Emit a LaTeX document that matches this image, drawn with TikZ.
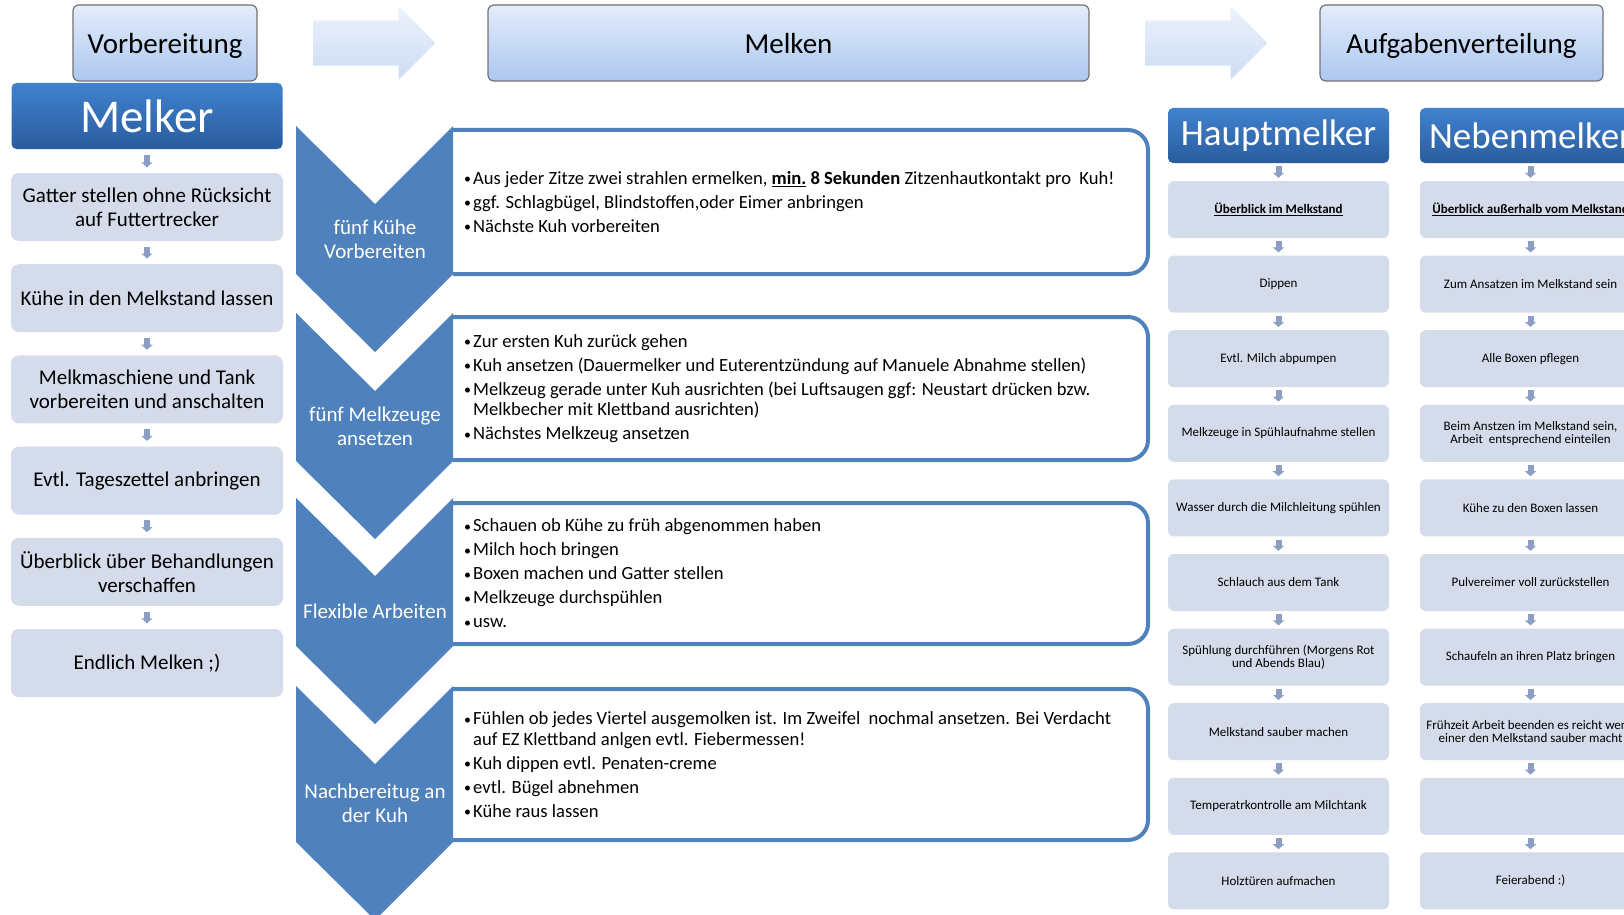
\documentclass[tikz,border=0pt]{standalone}
\usepackage{fontspec}
\setmainfont{Carlito}
\usetikzlibrary{arrows.meta,shapes.arrows}

\definecolor{chevblau}{RGB}{79,129,189}
\definecolor{kasten}{RGB}{212,219,234}
\definecolor{phaseoben}{RGB}{228,237,250}
\definecolor{phaseunten}{RGB}{172,199,240}
\definecolor{rolleoben}{RGB}{64,130,207}
\definecolor{rolleunten}{RGB}{42,92,158}
\definecolor{pfeiloben}{RGB}{236,242,252}
\definecolor{pfeilunten}{RGB}{204,220,244}
\definecolor{pfeilgrau}{RGB}{140,158,196}

\newcommand{\punkt}{\makebox[9pt][l]{\raisebox{0.5pt}{\fontsize{14}{14}\selectfont\textbullet}}}
\newcommand{\einzug}{\hspace*{9pt}}

\tikzset{
  phase/.style={draw=gray!90!black, line width=1.2pt, rounded corners=6pt,
    top color=phaseoben, bottom color=phaseunten, minimum height=76pt,
    inner sep=0pt, text depth=0pt, font=\fontsize{29}{34}\selectfont},
  rolle/.style={rounded corners=5pt, top color=rolleoben, bottom color=rolleunten,
    text=white, inner sep=0pt},
  schritt/.style={fill=kasten, rounded corners=8pt, minimum width=272pt,
    minimum height=68pt, align=center, inner sep=0pt,
    font=\fontsize{21}{24}\selectfont},
  aufgabe/.style={fill=kasten, rounded corners=6pt, minimum width=221pt,
    minimum height=57pt, align=center, inner sep=0pt,
    font=\fontsize{13}{13.5}\selectfont},
  grosspfeil/.style={single arrow, top color=pfeiloben, bottom color=pfeilunten,
    minimum height=122pt, inner xsep=0pt, inner ysep=22.5pt,
    single arrow head extend=14pt, xshift=-9.5pt},
  pfeilchen/.style={draw=pfeilgrau, line width=6pt,
    -{Triangle[width=11pt,length=5pt]}, shorten <=#1, shorten >=#1},
  pfeilchen/.default=5.5pt,
  chevron/.style={fill=chevblau},
  chevtext/.style={text=white, align=center, font=\fontsize{21}{24}\selectfont},
  infokasten/.style={draw=chevblau, line width=4pt, fill=white, rounded corners=20pt},
  punkte/.style={anchor=west, align=left, inner sep=0pt,
    font=\fontsize{18.6}{20.7}\selectfont}
}

\begin{document}
\begin{tikzpicture}[x=1pt, y=-1pt]
  \useasboundingbox (0,0) rectangle (1624,915);
  \fill[white] (0,0) rectangle (1624,915);
  \begin{scope}
  \clip (0,0) rectangle (1624,915);

  % Phasen oben
  \node[phase, minimum width=184pt] (vorb) at (165,43) {Vorbereitung};
  \node[phase, minimum width=601pt] (melken) at (788.5,43) {Melken};
  \node[phase, minimum width=283pt] (aufg) at (1461.5,43) {Aufgabenverteilung};
  \path (vorb) -- node[grosspfeil] (pfeil1) {} (melken);
  \path (melken) -- node[grosspfeil] (pfeil2) {} (aufg);

  % Melker
  \node[rolle, minimum width=271pt, minimum height=66pt,
    font=\fontsize{47}{50}\selectfont] (melker) at (147,116) {Melker};
  \node[schritt] (m1) at (147,207) {Gatter stellen ohne Rücksicht\\auf Futtertrecker};
  \node[schritt] (m2) at (147,298.2) {Kühe in den Melkstand lassen};
  \node[schritt] (m3) at (147,389.4) {Melkmaschiene und Tank\\vorbereiten und anschalten};
  \node[schritt] (m4) at (147,480.6) {Evtl. Tageszettel anbringen};
  \node[schritt] (m5) at (147,571.8) {Überblick über Behandlungen\\verschaffen};
  \node[schritt] (m6) at (147,663) {Endlich Melken ;)};

  % Melken: Kaesten
  \draw[infokasten] (453,130) -- (1148,130) -- (1148,274) -- (453,274);
  \draw[infokasten] (453,317) -- (1148,317) -- (1148,460) -- (453,460);
  \draw[infokasten] (453,503) -- (1148,503) -- (1148,644) -- (453,644);
  \draw[infokasten] (453,689) -- (1148,689) -- (1148,840) -- (453,840);

  \node[punkte] (t1) at (464,202) {%
    \punkt Aus jeder Zitze zwei strahlen ermelken, \underline{\textbf{min.}} \textbf{8 Sekunden} Zitzenhautkontakt pro\ \ Kuh!\\[3.3pt]
    \punkt ggf. Schlagbügel, Blindstoffen,oder Eimer anbringen\\[3.3pt]
    \punkt Nächste Kuh vorbereiten};
  \node[punkte] (t2) at (464,388.5) {%
    \punkt Zur ersten Kuh zurück gehen\\[3.3pt]
    \punkt Kuh ansetzen (Dauermelker und Euterentzündung auf Manuele Abnahme stellen)\\[3.3pt]
    \punkt Melkzeug gerade unter Kuh ausrichten (bei Luftsaugen ggf: Neustart drücken bzw.\\
    \einzug Melkbecher mit Klettband ausrichten)\\[3.3pt]
    \punkt Nächstes Melkzeug ansetzen};
  \node[punkte] (t3) at (464,573.5) {%
    \punkt Schauen ob Kühe zu früh abgenommen haben\\[3.3pt]
    \punkt Milch hoch bringen\\[3.3pt]
    \punkt Boxen machen und Gatter stellen\\[3.3pt]
    \punkt Melkzeuge durchspühlen\\[3.3pt]
    \punkt usw.};
  \node[punkte] (t4) at (464,764.5) {%
    \punkt Fühlen ob jedes Viertel ausgemolken ist. Im Zweifel\ \ nochmal ansetzen. Bei Verdacht\\
    \einzug auf EZ Klettband anlgen evtl. Fiebermessen!\\[3.3pt]
    \punkt Kuh dippen evtl. Penaten-creme\\[3.3pt]
    \punkt evtl. Bügel abnehmen\\[3.3pt]
    \punkt Kühe raus lassen};

  % Melken: Pfeile
  \fill[chevron] (296,126) -- (375,204) -- (453,126) -- (453,274) -- (375,352) -- (296,274) -- cycle;
  \fill[chevron] (296,313) -- (375,391) -- (453,313) -- (453,461) -- (375,539) -- (296,461) -- cycle;
  \fill[chevron] (296,498) -- (375,576) -- (453,498) -- (453,646) -- (375,724) -- (296,646) -- cycle;
  \fill[chevron] (296,686) -- (375,764) -- (453,686) -- (453,842) -- (375,920) -- (296,842) -- cycle;
  \node[chevtext] (k1) at (375,239.5) {fünf Kühe\\Vorbereiten};
  \node[chevtext] (k2) at (375,426) {fünf Melkzeuge\\ansetzen};
  \node[chevtext] (k3) at (375,611) {Flexible Arbeiten};
  \node[chevtext] (k4) at (375,803) {Nachbereitug an\\der Kuh};

  % Hauptmelker
  \node[rolle, minimum width=221pt, minimum height=55pt,
    font=\fontsize{37}{40}\selectfont] (haupt) at (1278.5,135.5) {Hauptmelker};
  \node[aufgabe] (h1) at (1278.5,209.5) {\underline{\textbf{Überblick im Melkstand}}};
  \node[aufgabe] (h2) at (1278.5,284.1) {Dippen};
  \node[aufgabe] (h3) at (1278.5,358.7) {Evtl. Milch abpumpen};
  \node[aufgabe] (h4) at (1278.5,433.3) {Melkzeuge in Spühlaufnahme stellen};
  \node[aufgabe] (h5) at (1278.5,507.9) {Wasser durch die Milchleitung spühlen};
  \node[aufgabe] (h6) at (1278.5,582.5) {Schlauch aus dem Tank};
  \node[aufgabe] (h7) at (1278.5,657.1) {Spühlung durchführen (Morgens Rot\\und Abends Blau)};
  \node[aufgabe] (h8) at (1278.5,731.7) {Melkstand sauber machen};
  \node[aufgabe] (h9) at (1278.5,806.3) {Temperatrkontrolle am Milchtank};
  \node[aufgabe] (h10) at (1278.5,880.9) {Holztüren aufmachen};

  % Nebenmelker
  \node[rolle, minimum width=221pt, minimum height=55pt,
    font=\fontsize{37}{40}\selectfont] (neben) at (1530.5,135.5) {Nebenmelker};
  \node[aufgabe] (n1) at (1530.5,209.5) {\underline{\textbf{Überblick außerhalb vom Melkstand}}};
  \node[aufgabe] (n2) at (1530.5,284.1) {Zum Ansatzen im Melkstand sein};
  \node[aufgabe] (n3) at (1530.5,358.7) {Alle Boxen pflegen};
  \node[aufgabe] (n4) at (1530.5,433.3) {Beim Anstzen im Melkstand sein,\\Arbeit\ \ entsprechend einteilen};
  \node[aufgabe] (n5) at (1530.5,507.9) {Kühe zu den Boxen lassen};
  \node[aufgabe] (n6) at (1530.5,582.5) {Pulvereimer voll zurückstellen};
  \node[aufgabe] (n7) at (1530.5,657.1) {Schaufeln an ihren Platz bringen};
  \node[aufgabe] (n8) at (1530.5,731.7) {Frühzeit Arbeit beenden es reicht wenn\\einer den Melkstand sauber macht};
  \node[aufgabe] (n9) at (1530.5,806.3) {};
  \node[aufgabe] (n10) at (1530.5,880.9) {Feierabend :)};

  % kleine Pfeile
  \begin{scope}[pfeilchen]
    \draw (melker.south) -- (m1.north);
    \draw (m1.south) -- (m2.north);
    \draw (m2.south) -- (m3.north);
    \draw (m3.south) -- (m4.north);
    \draw (m4.south) -- (m5.north);
    \draw (m5.south) -- (m6.north);
  \end{scope}
  \begin{scope}[pfeilchen=3pt]
    \draw (haupt.south) -- (h1.north);
    \draw (h1.south) -- (h2.north);
    \draw (h2.south) -- (h3.north);
    \draw (h3.south) -- (h4.north);
    \draw (h4.south) -- (h5.north);
    \draw (h5.south) -- (h6.north);
    \draw (h6.south) -- (h7.north);
    \draw (h7.south) -- (h8.north);
    \draw (h8.south) -- (h9.north);
    \draw (h9.south) -- (h10.north);
    \draw (neben.south) -- (n1.north);
    \draw (n1.south) -- (n2.north);
    \draw (n2.south) -- (n3.north);
    \draw (n3.south) -- (n4.north);
    \draw (n4.south) -- (n5.north);
    \draw (n5.south) -- (n6.north);
    \draw (n6.south) -- (n7.north);
    \draw (n7.south) -- (n8.north);
    \draw (n8.south) -- (n9.north);
    \draw (n9.south) -- (n10.north);
  \end{scope}
  \end{scope}
\end{tikzpicture}
\end{document}
